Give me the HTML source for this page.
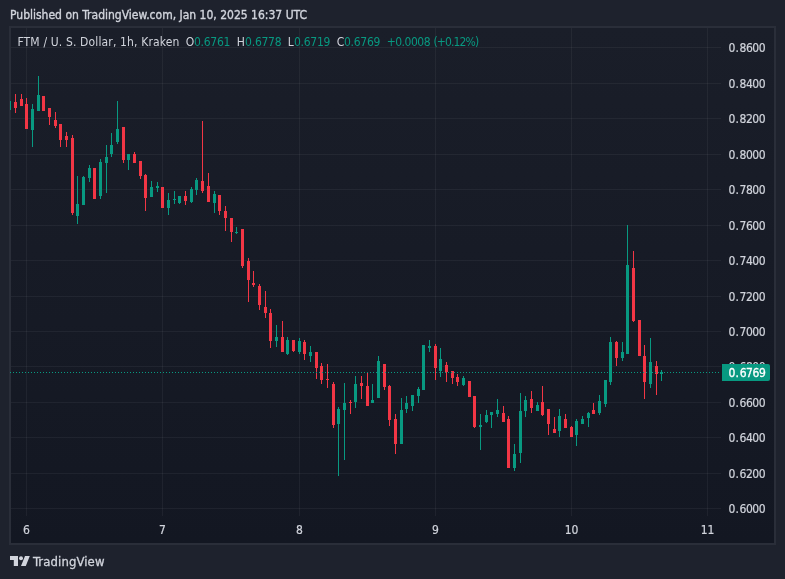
<!DOCTYPE html>
<html><head><meta charset="utf-8"><style>
html,body{margin:0;padding:0;}
body{width:785px;height:579px;background:#1e222d;position:relative;overflow:hidden;font-family:"DejaVu Sans Condensed","Liberation Sans","DejaVu Sans",sans-serif;}
.hdr{position:absolute;left:10px;top:8px;font-size:12px;color:#d1d4dc;white-space:nowrap;-webkit-text-stroke:0.35px #d1d4dc;}
.frame{position:absolute;left:9px;top:26px;width:763px;height:515px;border:2px solid #2a2e39;background:linear-gradient(#1a1e29,#131722);}
svg{position:absolute;left:0;top:0;}
.lg{position:absolute;top:35px;font-size:12px;white-space:nowrap;}
.pl{position:absolute;left:728.5px;letter-spacing:-0.52px;-webkit-text-stroke:0.2px #d1d4dc;font-size:12px;line-height:14px;color:#d1d4dc;white-space:nowrap;}
.tl{position:absolute;top:523px;-webkit-text-stroke:0.2px #d1d4dc;width:41px;text-align:center;font-size:12px;line-height:14px;color:#d1d4dc;}
.cur{position:absolute;left:722px;top:364px;width:48px;height:17px;background:#089981;border-radius:0 2px 2px 0;color:#fff;font-size:12px;line-height:17px;text-align:left;}
.cur>span{position:absolute;left:6.5px;top:0.5px;letter-spacing:-0.45px;-webkit-text-stroke:0.3px #fff;}
.logo{position:absolute;left:10px;top:556px;}
.tv{position:absolute;left:33px;top:554px;font-size:13px;letter-spacing:0.1px;color:#d1d4dc;-webkit-text-stroke:0.3px #d1d4dc;}
</style></head><body>
<div class="hdr">Published on TradingView.com, Jan 10, 2025 16:37 UTC</div>
<div class="frame"></div>
<svg width="785" height="579" viewBox="0 0 785 579" shape-rendering="crispEdges">
<rect x="11" y="47" width="710" height="1" fill="rgba(255,255,255,0.05)"/>
<rect x="11" y="83" width="710" height="1" fill="rgba(255,255,255,0.05)"/>
<rect x="11" y="118" width="710" height="1" fill="rgba(255,255,255,0.05)"/>
<rect x="11" y="154" width="710" height="1" fill="rgba(255,255,255,0.05)"/>
<rect x="11" y="189" width="710" height="1" fill="rgba(255,255,255,0.05)"/>
<rect x="11" y="225" width="710" height="1" fill="rgba(255,255,255,0.05)"/>
<rect x="11" y="260" width="710" height="1" fill="rgba(255,255,255,0.05)"/>
<rect x="11" y="296" width="710" height="1" fill="rgba(255,255,255,0.05)"/>
<rect x="11" y="331" width="710" height="1" fill="rgba(255,255,255,0.05)"/>
<rect x="11" y="366" width="710" height="1" fill="rgba(255,255,255,0.05)"/>
<rect x="11" y="402" width="710" height="1" fill="rgba(255,255,255,0.05)"/>
<rect x="11" y="437" width="710" height="1" fill="rgba(255,255,255,0.05)"/>
<rect x="11" y="473" width="710" height="1" fill="rgba(255,255,255,0.05)"/>
<rect x="11" y="508" width="710" height="1" fill="rgba(255,255,255,0.05)"/>
<rect x="26" y="28" width="1" height="488" fill="rgba(255,255,255,0.05)"/>
<rect x="162" y="28" width="1" height="488" fill="rgba(255,255,255,0.05)"/>
<rect x="299" y="28" width="1" height="488" fill="rgba(255,255,255,0.05)"/>
<rect x="435" y="28" width="1" height="488" fill="rgba(255,255,255,0.05)"/>
<rect x="571" y="28" width="1" height="488" fill="rgba(255,255,255,0.05)"/>
<rect x="707" y="28" width="1" height="488" fill="rgba(255,255,255,0.05)"/>
<rect x="10" y="101" width="1" height="9" fill="#089981"/>
<rect x="15" y="94" width="1" height="8" fill="#f23645"/>
<rect x="14" y="102" width="3" height="6" fill="#f23645"/>
<rect x="15" y="108" width="1" height="5" fill="#f23645"/>
<rect x="21" y="94" width="1" height="5" fill="#f23645"/>
<rect x="20" y="99" width="3" height="7" fill="#f23645"/>
<rect x="26" y="98" width="1" height="6" fill="#f23645"/>
<rect x="25" y="104" width="3" height="25" fill="#f23645"/>
<rect x="32" y="104" width="1" height="5" fill="#089981"/>
<rect x="31" y="109" width="3" height="21" fill="#089981"/>
<rect x="32" y="130" width="1" height="17" fill="#089981"/>
<rect x="38" y="76" width="1" height="19" fill="#089981"/>
<rect x="37" y="95" width="3" height="16" fill="#089981"/>
<rect x="42" y="96" width="3" height="15" fill="#f23645"/>
<rect x="48" y="108" width="3" height="9" fill="#f23645"/>
<rect x="49" y="117" width="1" height="8" fill="#f23645"/>
<rect x="55" y="112" width="1" height="8" fill="#f23645"/>
<rect x="54" y="120" width="3" height="6" fill="#f23645"/>
<rect x="55" y="126" width="1" height="2" fill="#f23645"/>
<rect x="59" y="124" width="3" height="16" fill="#f23645"/>
<rect x="60" y="140" width="1" height="7" fill="#f23645"/>
<rect x="66" y="132" width="1" height="4" fill="#f23645"/>
<rect x="65" y="136" width="3" height="4" fill="#f23645"/>
<rect x="66" y="140" width="1" height="7" fill="#f23645"/>
<rect x="72" y="135" width="1" height="3" fill="#f23645"/>
<rect x="71" y="138" width="3" height="75" fill="#f23645"/>
<rect x="72" y="213" width="1" height="2" fill="#f23645"/>
<rect x="77" y="176" width="1" height="28" fill="#089981"/>
<rect x="76" y="204" width="3" height="12" fill="#089981"/>
<rect x="77" y="216" width="1" height="8" fill="#089981"/>
<rect x="83" y="176" width="1" height="1" fill="#089981"/>
<rect x="82" y="177" width="3" height="28" fill="#089981"/>
<rect x="89" y="165" width="1" height="3" fill="#089981"/>
<rect x="88" y="168" width="3" height="10" fill="#089981"/>
<rect x="89" y="178" width="1" height="4" fill="#089981"/>
<rect x="93" y="168" width="3" height="31" fill="#f23645"/>
<rect x="100" y="159" width="1" height="3" fill="#089981"/>
<rect x="99" y="162" width="3" height="34" fill="#089981"/>
<rect x="100" y="196" width="1" height="3" fill="#089981"/>
<rect x="106" y="145" width="1" height="12" fill="#089981"/>
<rect x="105" y="157" width="3" height="6" fill="#089981"/>
<rect x="106" y="163" width="1" height="30" fill="#089981"/>
<rect x="111" y="133" width="1" height="12" fill="#089981"/>
<rect x="110" y="145" width="3" height="9" fill="#089981"/>
<rect x="111" y="154" width="1" height="3" fill="#089981"/>
<rect x="117" y="101" width="1" height="28" fill="#089981"/>
<rect x="116" y="129" width="3" height="13" fill="#089981"/>
<rect x="117" y="142" width="1" height="2" fill="#089981"/>
<rect x="122" y="127" width="3" height="33" fill="#f23645"/>
<rect x="123" y="160" width="1" height="3" fill="#f23645"/>
<rect x="127" y="154" width="3" height="6" fill="#089981"/>
<rect x="128" y="160" width="1" height="10" fill="#089981"/>
<rect x="134" y="152" width="1" height="2" fill="#f23645"/>
<rect x="133" y="154" width="3" height="9" fill="#f23645"/>
<rect x="139" y="161" width="3" height="15" fill="#f23645"/>
<rect x="140" y="176" width="1" height="3" fill="#f23645"/>
<rect x="145" y="174" width="1" height="1" fill="#f23645"/>
<rect x="144" y="175" width="3" height="23" fill="#f23645"/>
<rect x="145" y="198" width="1" height="13" fill="#f23645"/>
<rect x="151" y="181" width="1" height="6" fill="#089981"/>
<rect x="150" y="187" width="3" height="10" fill="#089981"/>
<rect x="157" y="182" width="1" height="4" fill="#089981"/>
<rect x="156" y="186" width="3" height="2" fill="#089981"/>
<rect x="157" y="188" width="1" height="4" fill="#089981"/>
<rect x="161" y="187" width="3" height="21" fill="#f23645"/>
<rect x="168" y="193" width="1" height="7" fill="#089981"/>
<rect x="167" y="200" width="3" height="8" fill="#089981"/>
<rect x="168" y="208" width="1" height="7" fill="#089981"/>
<rect x="174" y="191" width="1" height="8" fill="#089981"/>
<rect x="173" y="199" width="3" height="1" fill="#089981"/>
<rect x="174" y="200" width="1" height="4" fill="#089981"/>
<rect x="178" y="196" width="3" height="7" fill="#089981"/>
<rect x="179" y="203" width="1" height="1" fill="#089981"/>
<rect x="185" y="191" width="1" height="5" fill="#f23645"/>
<rect x="184" y="196" width="3" height="5" fill="#f23645"/>
<rect x="185" y="201" width="1" height="4" fill="#f23645"/>
<rect x="191" y="187" width="1" height="2" fill="#089981"/>
<rect x="190" y="189" width="3" height="13" fill="#089981"/>
<rect x="191" y="202" width="1" height="1" fill="#089981"/>
<rect x="196" y="178" width="1" height="2" fill="#089981"/>
<rect x="195" y="180" width="3" height="10" fill="#089981"/>
<rect x="196" y="190" width="1" height="5" fill="#089981"/>
<rect x="202" y="121" width="1" height="60" fill="#f23645"/>
<rect x="201" y="181" width="3" height="10" fill="#f23645"/>
<rect x="202" y="191" width="1" height="2" fill="#f23645"/>
<rect x="208" y="173" width="1" height="13" fill="#f23645"/>
<rect x="207" y="186" width="3" height="16" fill="#f23645"/>
<rect x="214" y="191" width="1" height="3" fill="#089981"/>
<rect x="213" y="194" width="3" height="9" fill="#089981"/>
<rect x="214" y="203" width="1" height="10" fill="#089981"/>
<rect x="218" y="195" width="3" height="16" fill="#f23645"/>
<rect x="219" y="211" width="1" height="4" fill="#f23645"/>
<rect x="225" y="206" width="1" height="5" fill="#f23645"/>
<rect x="224" y="211" width="3" height="7" fill="#f23645"/>
<rect x="225" y="218" width="1" height="13" fill="#f23645"/>
<rect x="230" y="218" width="3" height="14" fill="#f23645"/>
<rect x="231" y="232" width="1" height="10" fill="#f23645"/>
<rect x="236" y="227" width="1" height="5" fill="#089981"/>
<rect x="235" y="232" width="3" height="1" fill="#089981"/>
<rect x="236" y="233" width="1" height="1" fill="#089981"/>
<rect x="241" y="229" width="3" height="37" fill="#f23645"/>
<rect x="242" y="266" width="1" height="2" fill="#f23645"/>
<rect x="248" y="258" width="1" height="3" fill="#f23645"/>
<rect x="247" y="261" width="3" height="19" fill="#f23645"/>
<rect x="248" y="280" width="1" height="22" fill="#f23645"/>
<rect x="253" y="271" width="1" height="12" fill="#f23645"/>
<rect x="252" y="283" width="3" height="2" fill="#f23645"/>
<rect x="253" y="285" width="1" height="2" fill="#f23645"/>
<rect x="259" y="284" width="1" height="2" fill="#f23645"/>
<rect x="258" y="286" width="3" height="19" fill="#f23645"/>
<rect x="259" y="305" width="1" height="5" fill="#f23645"/>
<rect x="265" y="291" width="1" height="16" fill="#f23645"/>
<rect x="264" y="307" width="3" height="6" fill="#f23645"/>
<rect x="265" y="313" width="1" height="5" fill="#f23645"/>
<rect x="270" y="309" width="1" height="4" fill="#f23645"/>
<rect x="269" y="313" width="3" height="28" fill="#f23645"/>
<rect x="270" y="341" width="1" height="7" fill="#f23645"/>
<rect x="276" y="325" width="1" height="12" fill="#089981"/>
<rect x="275" y="337" width="3" height="4" fill="#089981"/>
<rect x="276" y="341" width="1" height="6" fill="#089981"/>
<rect x="282" y="321" width="1" height="16" fill="#f23645"/>
<rect x="281" y="337" width="3" height="15" fill="#f23645"/>
<rect x="287" y="337" width="1" height="3" fill="#089981"/>
<rect x="286" y="340" width="3" height="14" fill="#089981"/>
<rect x="287" y="354" width="1" height="1" fill="#089981"/>
<rect x="292" y="340" width="3" height="11" fill="#f23645"/>
<rect x="293" y="351" width="1" height="1" fill="#f23645"/>
<rect x="299" y="338" width="1" height="3" fill="#089981"/>
<rect x="298" y="341" width="3" height="11" fill="#089981"/>
<rect x="299" y="352" width="1" height="2" fill="#089981"/>
<rect x="304" y="340" width="1" height="2" fill="#f23645"/>
<rect x="303" y="342" width="3" height="12" fill="#f23645"/>
<rect x="304" y="354" width="1" height="6" fill="#f23645"/>
<rect x="310" y="346" width="1" height="6" fill="#089981"/>
<rect x="309" y="352" width="3" height="4" fill="#089981"/>
<rect x="310" y="356" width="1" height="6" fill="#089981"/>
<rect x="315" y="352" width="3" height="16" fill="#f23645"/>
<rect x="316" y="368" width="1" height="11" fill="#f23645"/>
<rect x="321" y="363" width="1" height="3" fill="#f23645"/>
<rect x="320" y="366" width="3" height="14" fill="#f23645"/>
<rect x="321" y="380" width="1" height="4" fill="#f23645"/>
<rect x="327" y="364" width="1" height="15" fill="#f23645"/>
<rect x="326" y="379" width="3" height="1" fill="#f23645"/>
<rect x="327" y="380" width="1" height="8" fill="#f23645"/>
<rect x="333" y="382" width="1" height="2" fill="#f23645"/>
<rect x="332" y="384" width="3" height="41" fill="#f23645"/>
<rect x="333" y="425" width="1" height="3" fill="#f23645"/>
<rect x="338" y="407" width="1" height="2" fill="#089981"/>
<rect x="337" y="409" width="3" height="15" fill="#089981"/>
<rect x="338" y="424" width="1" height="52" fill="#089981"/>
<rect x="344" y="383" width="1" height="20" fill="#089981"/>
<rect x="343" y="403" width="3" height="7" fill="#089981"/>
<rect x="344" y="410" width="1" height="50" fill="#089981"/>
<rect x="350" y="400" width="1" height="2" fill="#f23645"/>
<rect x="349" y="402" width="3" height="1" fill="#f23645"/>
<rect x="350" y="403" width="1" height="11" fill="#f23645"/>
<rect x="355" y="376" width="1" height="8" fill="#089981"/>
<rect x="354" y="384" width="3" height="18" fill="#089981"/>
<rect x="355" y="402" width="1" height="6" fill="#089981"/>
<rect x="361" y="376" width="1" height="7" fill="#f23645"/>
<rect x="360" y="383" width="3" height="3" fill="#f23645"/>
<rect x="361" y="386" width="1" height="13" fill="#f23645"/>
<rect x="367" y="373" width="1" height="13" fill="#f23645"/>
<rect x="366" y="386" width="3" height="20" fill="#f23645"/>
<rect x="372" y="384" width="1" height="16" fill="#089981"/>
<rect x="371" y="400" width="3" height="3" fill="#089981"/>
<rect x="378" y="356" width="1" height="5" fill="#089981"/>
<rect x="377" y="361" width="3" height="37" fill="#089981"/>
<rect x="383" y="364" width="3" height="23" fill="#f23645"/>
<rect x="384" y="387" width="1" height="3" fill="#f23645"/>
<rect x="389" y="385" width="1" height="1" fill="#f23645"/>
<rect x="388" y="386" width="3" height="34" fill="#f23645"/>
<rect x="389" y="420" width="1" height="6" fill="#f23645"/>
<rect x="395" y="414" width="1" height="5" fill="#f23645"/>
<rect x="394" y="419" width="3" height="25" fill="#f23645"/>
<rect x="395" y="444" width="1" height="10" fill="#f23645"/>
<rect x="401" y="398" width="1" height="12" fill="#089981"/>
<rect x="400" y="410" width="3" height="34" fill="#089981"/>
<rect x="406" y="396" width="1" height="7" fill="#089981"/>
<rect x="405" y="403" width="3" height="6" fill="#089981"/>
<rect x="406" y="409" width="1" height="4" fill="#089981"/>
<rect x="411" y="395" width="3" height="11" fill="#089981"/>
<rect x="412" y="406" width="1" height="5" fill="#089981"/>
<rect x="418" y="387" width="1" height="2" fill="#089981"/>
<rect x="417" y="389" width="3" height="7" fill="#089981"/>
<rect x="418" y="396" width="1" height="7" fill="#089981"/>
<rect x="422" y="345" width="3" height="45" fill="#089981"/>
<rect x="429" y="340" width="1" height="6" fill="#089981"/>
<rect x="428" y="346" width="3" height="2" fill="#089981"/>
<rect x="429" y="348" width="1" height="4" fill="#089981"/>
<rect x="435" y="344" width="1" height="2" fill="#f23645"/>
<rect x="434" y="346" width="3" height="22" fill="#f23645"/>
<rect x="435" y="368" width="1" height="12" fill="#f23645"/>
<rect x="440" y="348" width="1" height="11" fill="#089981"/>
<rect x="439" y="359" width="3" height="12" fill="#089981"/>
<rect x="440" y="371" width="1" height="6" fill="#089981"/>
<rect x="446" y="362" width="1" height="3" fill="#f23645"/>
<rect x="445" y="365" width="3" height="7" fill="#f23645"/>
<rect x="446" y="372" width="1" height="10" fill="#f23645"/>
<rect x="451" y="371" width="3" height="7" fill="#f23645"/>
<rect x="452" y="378" width="1" height="6" fill="#f23645"/>
<rect x="457" y="374" width="1" height="3" fill="#f23645"/>
<rect x="456" y="377" width="3" height="5" fill="#f23645"/>
<rect x="457" y="382" width="1" height="4" fill="#f23645"/>
<rect x="463" y="376" width="1" height="2" fill="#089981"/>
<rect x="462" y="378" width="3" height="7" fill="#089981"/>
<rect x="463" y="385" width="1" height="1" fill="#089981"/>
<rect x="468" y="381" width="3" height="16" fill="#f23645"/>
<rect x="473" y="396" width="3" height="31" fill="#f23645"/>
<rect x="474" y="427" width="1" height="1" fill="#f23645"/>
<rect x="480" y="414" width="1" height="11" fill="#089981"/>
<rect x="479" y="425" width="3" height="2" fill="#089981"/>
<rect x="480" y="427" width="1" height="23" fill="#089981"/>
<rect x="486" y="410" width="1" height="5" fill="#089981"/>
<rect x="485" y="415" width="3" height="7" fill="#089981"/>
<rect x="486" y="422" width="1" height="1" fill="#089981"/>
<rect x="490" y="412" width="3" height="3" fill="#089981"/>
<rect x="491" y="415" width="1" height="13" fill="#089981"/>
<rect x="497" y="399" width="1" height="11" fill="#089981"/>
<rect x="496" y="410" width="3" height="4" fill="#089981"/>
<rect x="497" y="414" width="1" height="3" fill="#089981"/>
<rect x="503" y="406" width="1" height="7" fill="#f23645"/>
<rect x="502" y="413" width="3" height="9" fill="#f23645"/>
<rect x="508" y="416" width="1" height="3" fill="#f23645"/>
<rect x="507" y="419" width="3" height="49" fill="#f23645"/>
<rect x="514" y="444" width="1" height="10" fill="#089981"/>
<rect x="513" y="454" width="3" height="14" fill="#089981"/>
<rect x="514" y="468" width="1" height="3" fill="#089981"/>
<rect x="520" y="393" width="1" height="18" fill="#089981"/>
<rect x="519" y="411" width="3" height="42" fill="#089981"/>
<rect x="520" y="453" width="1" height="10" fill="#089981"/>
<rect x="525" y="396" width="1" height="4" fill="#089981"/>
<rect x="524" y="400" width="3" height="11" fill="#089981"/>
<rect x="525" y="411" width="1" height="6" fill="#089981"/>
<rect x="531" y="391" width="1" height="8" fill="#f23645"/>
<rect x="530" y="399" width="3" height="9" fill="#f23645"/>
<rect x="531" y="408" width="1" height="5" fill="#f23645"/>
<rect x="537" y="402" width="1" height="3" fill="#089981"/>
<rect x="536" y="405" width="3" height="6" fill="#089981"/>
<rect x="542" y="386" width="1" height="16" fill="#f23645"/>
<rect x="541" y="402" width="3" height="13" fill="#f23645"/>
<rect x="542" y="415" width="1" height="1" fill="#f23645"/>
<rect x="547" y="409" width="3" height="15" fill="#f23645"/>
<rect x="548" y="424" width="1" height="11" fill="#f23645"/>
<rect x="554" y="417" width="1" height="12" fill="#f23645"/>
<rect x="553" y="429" width="3" height="4" fill="#f23645"/>
<rect x="559" y="409" width="1" height="7" fill="#089981"/>
<rect x="558" y="416" width="3" height="15" fill="#089981"/>
<rect x="559" y="431" width="1" height="6" fill="#089981"/>
<rect x="565" y="414" width="1" height="5" fill="#f23645"/>
<rect x="564" y="419" width="3" height="9" fill="#f23645"/>
<rect x="571" y="426" width="1" height="1" fill="#f23645"/>
<rect x="570" y="427" width="3" height="10" fill="#f23645"/>
<rect x="576" y="419" width="1" height="2" fill="#089981"/>
<rect x="575" y="421" width="3" height="14" fill="#089981"/>
<rect x="576" y="435" width="1" height="11" fill="#089981"/>
<rect x="582" y="416" width="1" height="3" fill="#089981"/>
<rect x="581" y="419" width="3" height="5" fill="#089981"/>
<rect x="588" y="412" width="1" height="1" fill="#089981"/>
<rect x="587" y="413" width="3" height="5" fill="#089981"/>
<rect x="588" y="418" width="1" height="9" fill="#089981"/>
<rect x="593" y="403" width="1" height="7" fill="#f23645"/>
<rect x="592" y="410" width="3" height="4" fill="#f23645"/>
<rect x="599" y="395" width="1" height="6" fill="#089981"/>
<rect x="598" y="401" width="3" height="12" fill="#089981"/>
<rect x="599" y="413" width="1" height="2" fill="#089981"/>
<rect x="604" y="380" width="3" height="24" fill="#089981"/>
<rect x="605" y="404" width="1" height="3" fill="#089981"/>
<rect x="610" y="337" width="1" height="5" fill="#089981"/>
<rect x="609" y="342" width="3" height="40" fill="#089981"/>
<rect x="610" y="382" width="1" height="3" fill="#089981"/>
<rect x="616" y="341" width="1" height="1" fill="#f23645"/>
<rect x="615" y="342" width="3" height="16" fill="#f23645"/>
<rect x="616" y="358" width="1" height="8" fill="#f23645"/>
<rect x="622" y="342" width="1" height="10" fill="#089981"/>
<rect x="621" y="352" width="3" height="6" fill="#089981"/>
<rect x="622" y="358" width="1" height="3" fill="#089981"/>
<rect x="627" y="225" width="1" height="40" fill="#089981"/>
<rect x="626" y="265" width="3" height="89" fill="#089981"/>
<rect x="633" y="251" width="1" height="17" fill="#f23645"/>
<rect x="632" y="268" width="3" height="53" fill="#f23645"/>
<rect x="633" y="321" width="1" height="1" fill="#f23645"/>
<rect x="638" y="320" width="3" height="36" fill="#f23645"/>
<rect x="644" y="345" width="1" height="11" fill="#f23645"/>
<rect x="643" y="356" width="3" height="26" fill="#f23645"/>
<rect x="644" y="382" width="1" height="17" fill="#f23645"/>
<rect x="650" y="338" width="1" height="24" fill="#089981"/>
<rect x="649" y="362" width="3" height="22" fill="#089981"/>
<rect x="650" y="384" width="1" height="4" fill="#089981"/>
<rect x="656" y="361" width="1" height="5" fill="#f23645"/>
<rect x="655" y="366" width="3" height="8" fill="#f23645"/>
<rect x="656" y="374" width="1" height="21" fill="#f23645"/>
<rect x="661" y="370" width="1" height="2" fill="#089981"/>
<rect x="660" y="372" width="3" height="2" fill="#089981"/>
<rect x="661" y="374" width="1" height="7" fill="#089981"/>
<path d="M10 372h1M13 372h1M16 372h1M19 372h1M22 372h1M25 372h1M28 372h1M31 372h1M34 372h1M37 372h1M40 372h1M43 372h1M46 372h1M49 372h1M52 372h1M55 372h1M58 372h1M61 372h1M64 372h1M67 372h1M70 372h1M73 372h1M76 372h1M79 372h1M82 372h1M85 372h1M88 372h1M91 372h1M94 372h1M97 372h1M100 372h1M103 372h1M106 372h1M109 372h1M112 372h1M115 372h1M118 372h1M121 372h1M124 372h1M127 372h1M130 372h1M133 372h1M136 372h1M139 372h1M142 372h1M145 372h1M148 372h1M151 372h1M154 372h1M157 372h1M160 372h1M163 372h1M166 372h1M169 372h1M172 372h1M175 372h1M178 372h1M181 372h1M184 372h1M187 372h1M190 372h1M193 372h1M196 372h1M199 372h1M202 372h1M205 372h1M208 372h1M211 372h1M214 372h1M217 372h1M220 372h1M223 372h1M226 372h1M229 372h1M232 372h1M235 372h1M238 372h1M241 372h1M244 372h1M247 372h1M250 372h1M253 372h1M256 372h1M259 372h1M262 372h1M265 372h1M268 372h1M271 372h1M274 372h1M277 372h1M280 372h1M283 372h1M286 372h1M289 372h1M292 372h1M295 372h1M298 372h1M301 372h1M304 372h1M307 372h1M310 372h1M313 372h1M316 372h1M319 372h1M322 372h1M325 372h1M328 372h1M331 372h1M334 372h1M337 372h1M340 372h1M343 372h1M346 372h1M349 372h1M352 372h1M355 372h1M358 372h1M361 372h1M364 372h1M367 372h1M370 372h1M373 372h1M376 372h1M379 372h1M382 372h1M385 372h1M388 372h1M391 372h1M394 372h1M397 372h1M400 372h1M403 372h1M406 372h1M409 372h1M412 372h1M415 372h1M418 372h1M421 372h1M424 372h1M427 372h1M430 372h1M433 372h1M436 372h1M439 372h1M442 372h1M445 372h1M448 372h1M451 372h1M454 372h1M457 372h1M460 372h1M463 372h1M466 372h1M469 372h1M472 372h1M475 372h1M478 372h1M481 372h1M484 372h1M487 372h1M490 372h1M493 372h1M496 372h1M499 372h1M502 372h1M505 372h1M508 372h1M511 372h1M514 372h1M517 372h1M520 372h1M523 372h1M526 372h1M529 372h1M532 372h1M535 372h1M538 372h1M541 372h1M544 372h1M547 372h1M550 372h1M553 372h1M556 372h1M559 372h1M562 372h1M565 372h1M568 372h1M571 372h1M574 372h1M577 372h1M580 372h1M583 372h1M586 372h1M589 372h1M592 372h1M595 372h1M598 372h1M601 372h1M604 372h1M607 372h1M610 372h1M613 372h1M616 372h1M619 372h1M622 372h1M625 372h1M628 372h1M631 372h1M634 372h1M637 372h1M640 372h1M643 372h1M646 372h1M649 372h1M652 372h1M655 372h1M658 372h1M661 372h1M664 372h1M667 372h1M670 372h1M673 372h1M676 372h1M679 372h1M682 372h1M685 372h1M688 372h1M691 372h1M694 372h1M697 372h1M700 372h1M703 372h1M706 372h1M709 372h1M712 372h1M715 372h1M718 372h1" stroke="#089981" stroke-width="1" transform="translate(0,0.5)"/>
</svg>
<div class="lg" id="lg0" style="left:17.47px;color:#d1d4dc;letter-spacing:0.146px">FTM / U. S. Dollar, 1h, Kraken</div>
<div class="lg" id="lg1" style="left:185.65px;color:#d1d4dc;letter-spacing:0px">O</div>
<div class="lg" id="lg2" style="left:193.92px;color:#089981;letter-spacing:-0.26px">0.6761</div>
<div class="lg" id="lg3" style="left:236.67px;color:#d1d4dc;letter-spacing:0px">H</div>
<div class="lg" id="lg4" style="left:245.12px;color:#089981;letter-spacing:-0.26px">0.6778</div>
<div class="lg" id="lg5" style="left:287.67px;color:#d1d4dc;letter-spacing:0px">L</div>
<div class="lg" id="lg6" style="left:293.92px;color:#089981;letter-spacing:-0.26px">0.6719</div>
<div class="lg" id="lg7" style="left:336.84px;color:#d1d4dc;letter-spacing:0px">C</div>
<div class="lg" id="lg8" style="left:343.92px;color:#089981;letter-spacing:-0.26px">0.6769</div>
<div class="lg" id="lg9" style="left:386.63px;color:#089981;letter-spacing:-0.48px">+0.0008</div>
<div class="lg" id="lg10" style="left:433.45px;color:#089981;letter-spacing:-0.86px">(+0.12%)</div>
<div class="pl" style="top:41px">0<span style="margin-left:0.6px;letter-spacing:0.72px">.</span>8600</div>
<div class="pl" style="top:77px">0<span style="margin-left:0.6px;letter-spacing:0.72px">.</span>8400</div>
<div class="pl" style="top:112px">0<span style="margin-left:0.6px;letter-spacing:0.72px">.</span>8200</div>
<div class="pl" style="top:148px">0<span style="margin-left:0.6px;letter-spacing:0.72px">.</span>8000</div>
<div class="pl" style="top:183px">0<span style="margin-left:0.6px;letter-spacing:0.72px">.</span>7800</div>
<div class="pl" style="top:219px">0<span style="margin-left:0.6px;letter-spacing:0.72px">.</span>7600</div>
<div class="pl" style="top:254px">0<span style="margin-left:0.6px;letter-spacing:0.72px">.</span>7400</div>
<div class="pl" style="top:290px">0<span style="margin-left:0.6px;letter-spacing:0.72px">.</span>7200</div>
<div class="pl" style="top:325px">0<span style="margin-left:0.6px;letter-spacing:0.72px">.</span>7000</div>
<div class="pl" style="top:360px">0<span style="margin-left:0.6px;letter-spacing:0.72px">.</span>6800</div>
<div class="pl" style="top:396px">0<span style="margin-left:0.6px;letter-spacing:0.72px">.</span>6600</div>
<div class="pl" style="top:431px">0<span style="margin-left:0.6px;letter-spacing:0.72px">.</span>6400</div>
<div class="pl" style="top:467px">0<span style="margin-left:0.6px;letter-spacing:0.72px">.</span>6200</div>
<div class="pl" style="top:502px">0<span style="margin-left:0.6px;letter-spacing:0.72px">.</span>6000</div>
<div class="tl" style="left:6px">6</div>
<div class="tl" style="left:142px">7</div>
<div class="tl" style="left:279px">8</div>
<div class="tl" style="left:415px">9</div>
<div class="tl" style="left:551px">10</div>
<div class="tl" style="left:687px">11</div>
<div class="cur"><span>0<span style="margin-left:0.6px;letter-spacing:0.7px">.</span>6769</span></div>
<svg class="logo" width="20" height="11" viewBox="0 0 20 11" style="left:10px;top:556px">
<path d="M0 0H8V10H3.8V3.9H0Z" fill="#d1d4dc"/>
<circle cx="11" cy="2.3" r="2" fill="#d1d4dc"/>
<path d="M15 0.1H19.8L15.8 9.9H11Z" fill="#d1d4dc"/>
</svg>
<div class="tv">TradingView</div>
</body></html>
